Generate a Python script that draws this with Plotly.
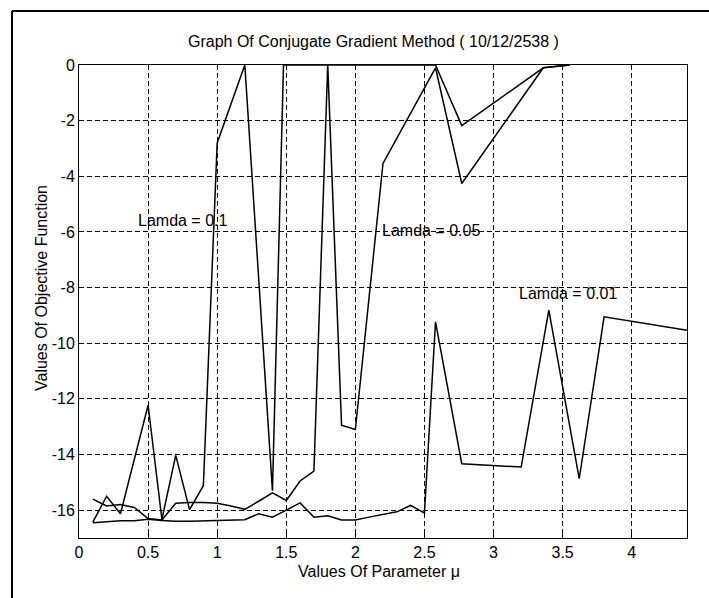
import plotly.graph_objects as go

# ---- data ----
x_lamda_01 = [0.1, 0.2, 0.3, 0.5, 0.6, 0.7, 0.8, 0.9, 1.0, 1.2, 1.4, 1.48, 2.58, 2.77, 3.36, 3.55]
y_lamda_01 = [-16.43, -15.5, -16.13, -12.23, -16.33, -14.03, -15.98, -15.12, -2.8, 0.0, -15.3, 0.0, 0.0, -2.18, -0.1, 0.0]

x_lamda_005 = [0.1, 0.2, 0.3, 0.4, 0.5, 0.6, 0.7, 0.8, 0.9, 1.0, 1.1, 1.2, 1.3, 1.4, 1.5, 1.6, 1.7,
               1.8, 1.9, 2.0, 2.2, 2.58, 2.77, 3.36, 3.55]
y_lamda_005 = [-15.6, -15.85, -15.8, -15.9, -16.3, -16.35, -15.75, -15.72, -15.72, -15.75, -15.85, -15.97,
               -15.68, -15.38, -15.65, -14.95, -14.6, 0.0, -12.95, -13.1, -3.54, -0.1, -4.26, -0.1, 0.0]

x_lamda_001 = [0.1, 0.2, 0.3, 0.4, 0.5, 0.6, 0.7, 0.8, 0.9, 1.0, 1.1, 1.2, 1.3, 1.4, 1.5, 1.6, 1.7,
               1.8, 1.9, 2.0, 2.1, 2.2, 2.3, 2.4, 2.5, 2.58, 2.77, 3.2, 3.4, 3.62, 3.8, 4.4]
y_lamda_001 = [-16.45, -16.42, -16.38, -16.38, -16.33, -16.37, -16.4, -16.4, -16.38, -16.38, -16.36, -16.34,
               -16.13, -16.25, -16.0, -15.74, -16.25, -16.2, -16.35, -16.35, -16.25, -16.15, -16.06, -15.83,
               -16.1, -9.23, -14.33, -14.45, -8.81, -14.87, -9.05, -9.53]

x_tick_vals = [0, 0.5, 1, 1.5, 2, 2.5, 3, 3.5, 4]
x_tick_text = ["0", "0.5", "1", "1.5", "2", "2.5", "3", "3.5", "4"]
y_tick_vals = [0, -2, -4, -6, -8, -10, -12, -14, -16]
y_tick_text = ["0", "-2", "-4", "-6", "-8", "-10", "-12", "-14", "-16"]

labels = ["Lamda = 0.1", "Lamda = 0.05", "Lamda = 0.01"]
label_x = [0.755, 2.55, 3.54]
label_y = [-5.58, -5.94, -8.21]

FONT = "Arial, Liberation Sans, sans-serif"

fig = go.Figure()
for xs, ys, name in [(x_lamda_01, y_lamda_01, labels[0]),
                     (x_lamda_005, y_lamda_005, labels[1]),
                     (x_lamda_001, y_lamda_001, labels[2])]:
    fig.add_trace(go.Scatter(x=xs, y=ys, mode="lines", name=name,
                             line=dict(color="black", width=1.5)))

for t, lx, ly in zip(labels, label_x, label_y):
    fig.add_annotation(x=lx, y=ly, text=t, showarrow=False, xref="x", yref="y",
                       xanchor="center", yanchor="middle",
                       font=dict(family=FONT, size=16, color="black"))

axis_common = dict(showline=True, linecolor="black", linewidth=1, mirror="ticks",
                   showgrid=True, gridcolor="black", gridwidth=1, griddash="5px,3px",
                   ticks="inside", ticklen=5, tickcolor="black", zeroline=False,
                   tickfont=dict(family=FONT, size=16, color="black"))

fig.update_xaxes(range=[0, 4.4], tickvals=x_tick_vals, ticktext=x_tick_text, **axis_common)
fig.update_yaxes(range=[-17, 0], tickvals=y_tick_vals, ticktext=y_tick_text, **axis_common)

# title and axis titles
fig.add_annotation(text="Graph Of Conjugate Gradient Method ( 10/12/2538 )", xref="paper", yref="paper",
                   x=(373 - 79) / 608, y=(538 - 42) / 473, showarrow=False,
                   xanchor="center", yanchor="middle",
                   font=dict(family=FONT, size=16, color="black"))
fig.add_annotation(text="Values Of Parameter μ", xref="paper", yref="paper",
                   x=(379 - 79) / 608, y=(538 - 571) / 473, showarrow=False,
                   xanchor="center", yanchor="middle",
                   font=dict(family=FONT, size=16, color="black"))
fig.add_annotation(text="Values Of Objective Function", xref="paper", yref="paper",
                   x=(41 - 79) / 608, y=(538 - 288) / 473, showarrow=False, textangle=-90,
                   xanchor="center", yanchor="middle",
                   font=dict(family=FONT, size=16, color="black"))

# outer frame lines of the page
fig.add_shape(type="line", xref="paper", yref="paper", x0=(12 - 79) / 608, x1=(712 - 79) / 608,
              y0=(538 - 11) / 473, y1=(538 - 11) / 473, line=dict(color="black", width=2))
fig.add_shape(type="line", xref="paper", yref="paper", x0=(12 - 79) / 608, x1=(12 - 79) / 608,
              y0=(538 - 11) / 473, y1=(538 - 600) / 473, line=dict(color="black", width=2))

fig.update_layout(width=709, height=598, margin=dict(l=79, r=22, t=65, b=60),
                  paper_bgcolor="white", plot_bgcolor="white", showlegend=False,
                  font=dict(family=FONT, size=16, color="black"))

fig.write_html("out.html")
